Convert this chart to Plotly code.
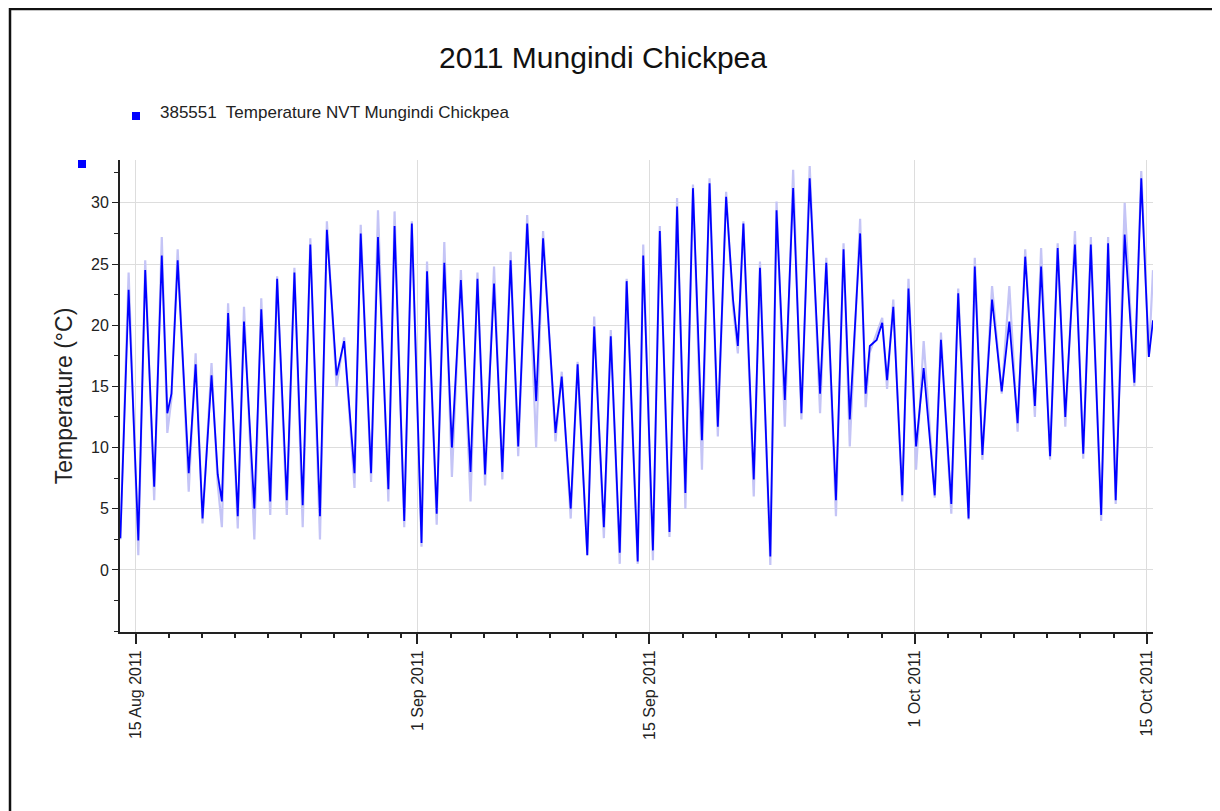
import pandas as pd
import plotly.graph_objects as go

# ---------------- data ----------------
times = [
    "2011-08-14 02:00", "2011-08-14 14:00", "2011-08-15 04:00", "2011-08-15 14:00",
    "2011-08-16 03:00", "2011-08-16 14:00", "2011-08-16 22:00", "2011-08-17 04:00",
    "2011-08-17 13:00", "2011-08-18 05:00", "2011-08-18 15:00", "2011-08-19 01:00",
    "2011-08-19 14:00", "2011-08-19 23:00", "2011-08-20 05:00", "2011-08-20 14:00",
    "2011-08-21 04:00", "2011-08-21 13:00", "2011-08-22 04:00", "2011-08-22 14:00",
    "2011-08-23 03:00", "2011-08-23 13:00", "2011-08-24 03:00", "2011-08-24 14:00",
    "2011-08-25 02:00", "2011-08-25 13:00", "2011-08-26 03:00", "2011-08-26 13:00",
    "2011-08-27 03:00", "2011-08-27 14:00", "2011-08-28 05:00", "2011-08-28 14:00",
    "2011-08-29 05:00", "2011-08-29 15:00", "2011-08-30 06:00", "2011-08-30 15:00",
    "2011-08-31 05:00", "2011-08-31 16:00", "2011-09-01 06:00", "2011-09-01 14:00",
    "2011-09-02 04:00", "2011-09-02 15:00", "2011-09-03 02:00", "2011-09-03 15:00",
    "2011-09-04 05:00", "2011-09-04 15:00", "2011-09-05 02:00", "2011-09-05 15:00",
    "2011-09-06 03:00", "2011-09-06 15:00", "2011-09-07 02:00", "2011-09-07 15:00",
    "2011-09-08 04:00", "2011-09-08 14:00", "2011-09-09 08:00", "2011-09-09 17:00",
    "2011-09-10 06:00", "2011-09-10 16:00", "2011-09-11 06:00", "2011-09-11 16:00",
    "2011-09-12 06:00", "2011-09-12 16:00", "2011-09-13 05:00", "2011-09-13 15:00",
    "2011-09-14 07:00", "2011-09-14 15:00", "2011-09-15 05:00", "2011-09-15 15:00",
    "2011-09-16 05:00", "2011-09-16 16:00", "2011-09-17 04:00", "2011-09-17 15:00",
    "2011-09-18 04:00", "2011-09-18 15:00", "2011-09-19 03:00", "2011-09-19 15:00",
    "2011-09-20 01:00", "2011-09-20 08:00", "2011-09-20 16:00", "2011-09-21 07:00",
    "2011-09-21 16:00", "2011-09-22 07:00", "2011-09-22 16:00", "2011-09-23 04:00",
    "2011-09-23 16:00", "2011-09-24 04:00", "2011-09-24 16:00", "2011-09-25 07:00",
    "2011-09-25 16:00", "2011-09-26 06:00", "2011-09-26 17:00", "2011-09-27 02:00",
    "2011-09-27 17:00", "2011-09-28 01:00", "2011-09-28 07:00", "2011-09-28 17:00",
    "2011-09-29 01:00", "2011-09-29 08:00", "2011-09-29 17:00", "2011-09-30 06:00",
    "2011-09-30 15:00", "2011-10-01 02:00", "2011-10-01 13:00", "2011-10-02 05:00",
    "2011-10-02 14:00", "2011-10-03 05:00", "2011-10-03 15:00", "2011-10-04 06:00",
    "2011-10-04 15:00", "2011-10-05 02:00", "2011-10-05 16:00", "2011-10-06 06:00",
    "2011-10-06 17:00", "2011-10-07 05:00", "2011-10-07 16:00", "2011-10-08 06:00",
    "2011-10-08 15:00", "2011-10-09 04:00", "2011-10-09 15:00", "2011-10-10 02:00",
    "2011-10-10 16:00", "2011-10-11 04:00", "2011-10-11 15:00", "2011-10-12 06:00",
    "2011-10-12 16:00", "2011-10-13 03:00", "2011-10-13 16:00", "2011-10-14 06:00",
    "2011-10-14 16:00", "2011-10-15 03:00", "2011-10-15 09:00",
]

temperature = [
    2.6, 22.9, 2.4, 24.5,
    6.8, 25.7, 12.8, 14.4,
    25.3, 7.9, 16.8, 4.2,
    15.9, 7.8, 5.6, 21.0,
    4.4, 20.3, 5.0, 21.3,
    5.6, 23.8, 5.7, 24.3,
    5.3, 26.6, 4.4, 27.8,
    15.9, 18.7, 7.9, 27.5,
    7.9, 27.2, 6.6, 28.1,
    4.0, 28.3, 2.2, 24.4,
    4.6, 25.1, 10.0, 23.7,
    8.0, 23.8, 7.8, 23.4,
    8.0, 25.3, 10.1, 28.3,
    13.8, 27.1, 11.2, 15.8,
    5.0, 16.8, 1.2, 19.9,
    3.5, 19.1, 1.4, 23.6,
    0.7, 25.7, 1.6, 27.7,
    3.1, 29.7, 6.3, 31.2,
    10.6, 31.6, 11.7, 30.5,
    22.1, 18.3, 28.3, 7.4,
    24.7, 1.1, 29.4, 13.9,
    31.2, 12.8, 32.0, 14.4,
    25.1, 5.7, 26.2, 12.3,
    27.5, 14.4, 18.3, 18.8,
    20.2, 15.5, 21.5, 6.1,
    23.0, 10.1, 16.5, 6.1,
    18.8, 5.4, 22.6, 4.2,
    24.8, 9.4, 22.1, 14.6,
    20.3, 12.0, 25.6, 13.4,
    24.8, 9.3, 26.3, 12.5,
    26.6, 9.5, 26.6, 4.5,
    26.7, 5.7, 27.4, 15.3,
    32.0, 17.4, 20.4,
]

temperature_raw = [
    2.5, 24.3, 1.2, 25.3,
    5.7, 27.2, 11.2, 14.0,
    26.2, 6.4, 17.7, 3.8,
    16.9, 7.0, 3.5, 21.8,
    3.4, 21.5, 2.5, 22.2,
    4.5, 24.0, 4.5, 24.7,
    3.5, 27.1, 2.5, 28.5,
    15.0, 19.0, 6.7, 28.2,
    7.2, 29.4, 5.6, 29.3,
    3.5, 28.5, 1.9, 25.2,
    3.7, 26.8, 7.6, 24.5,
    5.6, 24.3, 6.9, 24.8,
    7.4, 26.0, 9.3, 29.0,
    10.0, 27.7, 10.5, 16.2,
    4.2, 17.0, 1.2, 20.7,
    2.6, 19.6, 0.5, 23.8,
    0.5, 26.6, 0.8, 28.1,
    2.7, 30.4, 5.0, 31.5,
    8.2, 32.0, 10.9, 30.9,
    21.5, 17.7, 28.5, 6.0,
    25.2, 0.4, 30.1, 11.7,
    32.7, 12.3, 33.0, 12.8,
    25.5, 4.4, 26.7, 10.1,
    28.7, 13.3, 17.8, 19.3,
    20.6, 14.8, 22.1, 5.6,
    23.8, 8.2, 18.7, 5.9,
    19.4, 4.6, 23.0, 4.1,
    25.5, 9.0, 23.2, 14.4,
    23.2, 11.3, 26.2, 12.5,
    26.3, 9.0, 26.7, 11.7,
    27.7, 9.1, 27.2, 4.0,
    27.2, 5.4, 30.0, 15.0,
    32.6, 17.4, 24.5,
]

tick_dates = ["2011-08-15", "2011-09-01", "2011-09-15", "2011-10-01", "2011-10-15"]
tick_labels = ["15 Aug 2011", "1 Sep 2011", "15 Sep 2011", "1 Oct 2011", "15 Oct 2011"]
y_ticks = [0, 5, 10, 15, 20, 25, 30]

series_name = "385551\u00a0 Temperature NVT Mungindi Chickpea"
chart_title = "2011 Mungindi Chickpea"
y_title = "Temperature (°C)"

# ---------------- layout geometry ----------------
# The page adds an 8px body margin, so the figure is sized/offset to compensate.
PAGE_OFF = 8
W, H = 1220 - PAGE_OFF, 811 - PAGE_OFF
L, R, T, B = 120 - PAGE_OFF, 1153 - PAGE_OFF, 160 - PAGE_OFF, 632 - PAGE_OFF
pw, ph = R - L, B - T


def px(x_page):
    return (x_page - PAGE_OFF - L) / pw


def py(y_page):
    return (B - (y_page - PAGE_OFF)) / ph


# minor ticks every 2 days, restarting each month (as in the source chart)
minor_dates = []
for month_start, month_end in [("2011-08-01", "2011-08-31"), ("2011-09-01", "2011-09-30"),
                               ("2011-10-01", "2011-10-31")]:
    for d in pd.date_range(month_start, month_end, freq="2D"):
        minor_dates.append(d.strftime("%Y-%m-%d"))

FONT = "Arial, Liberation Sans, sans-serif"

fig = go.Figure()
fig.add_trace(go.Scatter(
    x=times, y=temperature_raw, mode="lines",
    line=dict(color="#c4c4f6", width=2.2), showlegend=False, hoverinfo="skip",
))
fig.add_trace(go.Scatter(
    x=times, y=temperature, mode="lines", name=series_name,
    line=dict(color="#0000ff", width=1.8), showlegend=False,
))

fig.update_layout(
    width=W, height=H,
    margin=dict(l=L, r=W - R, t=T, b=H - B, pad=0),
    paper_bgcolor="white", plot_bgcolor="white",
    font=dict(family=FONT, color="#222222"),
    title=dict(text=chart_title, x=(603 - PAGE_OFF) / W, xref="container", xanchor="center",
               y=1 - (57 - PAGE_OFF) / H, yref="container", yanchor="middle",
               font=dict(size=30, color="#111111", family=FONT)),
    showlegend=False,
)

fig.update_xaxes(
    type="date",
    range=["2011-08-14 01:30", "2011-10-15 09:00"],
    tickmode="array", tickvals=tick_dates, ticktext=tick_labels,
    tickangle=-90, tickfont=dict(size=16, color="#222222", family=FONT),
    ticks="outside", ticklen=10, tickwidth=2, tickcolor="#222222",
    showgrid=True, gridcolor="#dddddd", gridwidth=1,
    showline=True, linecolor="#222222", linewidth=2,
    zeroline=False,
    minor=dict(tickmode="array", tickvals=minor_dates, ticks="outside",
               ticklen=4, tickwidth=2, tickcolor="#222222", showgrid=False),
)

fig.update_yaxes(
    range=[-5.07, 33.5],
    tickmode="array", tickvals=y_ticks,
    tickfont=dict(size=16, color="#222222", family=FONT),
    ticks="outside", ticklen=6, tickwidth=1, tickcolor="#222222",
    showgrid=True, gridcolor="#dddddd", gridwidth=1,
    showline=True, linecolor="#222222", linewidth=2,
    zeroline=False,
    title=dict(text=y_title, font=dict(size=23, color="#222222", family=FONT), standoff=12),
    minor=dict(dtick=2.5, tick0=0, ticks="outside", ticklen=4, tickwidth=1,
               tickcolor="#222222", showgrid=False),
)

# legend (square marker + text) and the small series marker near the y axis
fig.add_shape(type="rect", xref="paper", yref="paper",
              x0=px(132), x1=px(140), y0=py(120), y1=py(112),
              fillcolor="#0000ff", line=dict(width=0))
fig.add_annotation(text=series_name, xref="paper", yref="paper",
                   x=px(158), y=py(113), xanchor="left", yanchor="middle",
                   showarrow=False, font=dict(size=17, color="#222222", family=FONT))
fig.add_shape(type="rect", xref="paper", yref="paper",
              x0=px(78), x1=px(86), y0=py(168), y1=py(160),
              fillcolor="#0000ff", line=dict(width=0))

# outer frame
fig.add_shape(type="rect", xref="paper", yref="paper",
              x0=px(10), x1=px(1217), y0=py(9), y1=py(830),
              line=dict(color="#111111", width=2.5), fillcolor="rgba(0,0,0,0)", layer="below")

fig.write_html("out.html")
